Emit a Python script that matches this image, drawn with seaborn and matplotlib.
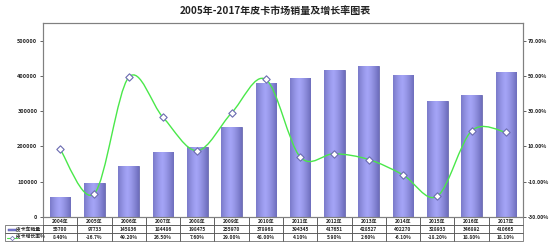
import numpy as np
import pandas as pd
import seaborn as sns
import matplotlib
matplotlib.use("Agg")
import matplotlib.pyplot as plt
from matplotlib.path import Path
from matplotlib.patches import PathPatch, Rectangle
from matplotlib.lines import Line2D

years = ["2004年", "2005年", "2006年", "2007年", "2008年", "2009年", "2010年",
         "2011年", "2012年", "2013年", "2014年", "2015年", "2016年", "2017年"]
sales = [55700, 97733, 145836, 184486, 198475, 255970, 378968,
         394345, 417651, 428527, 402270, 328933, 346892, 410665]
growth = [8.40, -16.7, 49.20, 26.50, 7.60, 29.00, 48.00,
          4.10, 5.90, 2.60, -6.10, -18.20, 18.80, 18.10]
growth_labels = ["8.40%", "-16.7%", "49.20%", "26.50%", "7.60%", "29.00%", "48.00%",
                 "4.10%", "5.90%", "2.60%", "-6.10%", "-18.20%", "18.80%", "18.10%"]
series_names = ["皮卡车销量", "皮卡增长率%"]
title = "2005年-2017年皮卡市场销量及增长率图表"

sns.set_theme(style="white")
plt.rcParams['font.family'] = ['Noto Sans CJK SC', 'DejaVu Sans']

W, H = 550, 247
fig = plt.figure(figsize=(5.5, 2.47), dpi=100)
L, R, T, B = 43, 523, 23, 217
ax = fig.add_axes([L / W, 1 - B / H, (R - L) / W, (B - T) / H])

df = pd.DataFrame({"year": years, "sales": sales, "growth": growth})
sns.barplot(data=df, x="year", y="sales", ax=ax, color="#8888e6", width=0.6,
            edgecolor="#5a5aa0", linewidth=0.5, saturation=1)
ax.set_xlim(-0.5, len(years) - 0.5)
ax.set_ylim(0, 550000)
ax.set_yticks([0, 100000, 200000, 300000, 400000, 500000])
ax.set_yticklabels(["0", "100000", "200000", "300000", "400000", "500000"])
ax.set_xticks([])
ax.set_xlabel("")
ax.set_ylabel("")
ax.tick_params(axis="y", labelsize=4, length=2, width=0.5, pad=2, left=True)
for lab in ax.get_yticklabels():
    lab.set_fontweight("bold")

# cylinder-like gradient on bars
grad = np.linspace(0, 1, 64)
shade = 1 - 0.7 * np.abs(grad - 0.45) ** 1.3 * 2
cmap = matplotlib.colors.LinearSegmentedColormap.from_list(
    "cyl", ["#50509c", "#a4a4f6"])
for p in ax.patches:
    x0, y0 = p.get_x(), p.get_y()
    w, h = p.get_width(), p.get_height()
    im = ax.imshow(shade[np.newaxis, :], cmap=cmap, vmin=0, vmax=1, aspect="auto",
                   extent=[x0, x0 + w, y0, y0 + h], zorder=p.get_zorder() + 0.1)
    im.set_clip_path(p)
ax.set_xlim(-0.5, len(years) - 0.5)
ax.set_ylim(0, 550000)

for s in ax.spines.values():
    s.set_color("#808080")
    s.set_linewidth(0.8)

ax2 = ax.twinx()
ax2.set_ylim(-30, 80)
ax2.set_yticks([-30, -10, 10, 30, 50, 70])
ax2.set_yticklabels([f"{v:.2f}%" for v in [-30, -10, 10, 30, 50, 70]])
ax2.tick_params(axis="y", labelsize=3.8, length=2, width=0.5, pad=1.5, right=True)
for lab in ax2.get_yticklabels():
    lab.set_fontweight("bold")
ax2.grid(False)
for s in ax2.spines.values():
    s.set_color("#808080")
    s.set_linewidth(0.8)

xs = np.arange(len(years), dtype=float)
ys = np.array(growth, dtype=float)
# smooth (Catmull-Rom style) Bezier curve through the points
verts = [(xs[0], ys[0])]
codes = [Path.MOVETO]
n = len(xs)
for i in range(n - 1):
    p0 = np.array([xs[max(i - 1, 0)], ys[max(i - 1, 0)]])
    p1 = np.array([xs[i], ys[i]])
    p2 = np.array([xs[i + 1], ys[i + 1]])
    p3 = np.array([xs[min(i + 2, n - 1)], ys[min(i + 2, n - 1)]])
    c1 = p1 + (p2 - p0) / 6
    c2 = p2 - (p3 - p1) / 6
    verts += [tuple(c1), tuple(c2), tuple(p2)]
    codes += [Path.CURVE4] * 3
curve = PathPatch(Path(verts, codes), facecolor="none", edgecolor="#4ae84a",
                  linewidth=1.0, zorder=3)
ax2.add_patch(curve)
sns.scatterplot(x=xs, y=ys, ax=ax2, marker="D", s=14, color="white",
                edgecolor="#6a6ab0", linewidth=0.8, zorder=4)
ax2.set_xlim(-0.5, len(years) - 0.5)

fig.text(0.5, 1 - 11 / H, title, ha="center", va="center", fontsize=7.2,
         fontweight="bold", color="#222222")

# data table
cell_text = [[""] + years,
             ["      " + series_names[0]] + [str(v) for v in sales],
             ["      " + series_names[1]] + growth_labels]
lab_w = 38.0
col_w = (R - L) / len(years)
total = lab_w + col_w * len(years)
col_widths = [lab_w / total] + [col_w / total] * len(years)
tb_top, tb_bot = 217, 241
bbox = [(5 - L) / (R - L), -(tb_bot - tb_top) / (B - T),
        total / (R - L), (tb_bot - tb_top) / (B - T)]
table = ax.table(cellText=cell_text, colWidths=col_widths, bbox=bbox,
                 cellLoc="center")
table.auto_set_font_size(False)
for (r, c), cell in table.get_celld().items():
    cell.set_linewidth(0.5)
    cell.set_edgecolor("#555555")
    cell.set_facecolor("none")
    cell.get_text().set_fontsize(3.5)
    cell.get_text().set_fontweight("bold")
    if c == 0:
        cell.get_text().set_ha("left")
        cell._loc = "left"
    if r == 0 and c == 0:
        cell.visible_edges = ""

# legend keys inside the table label cells
fig.add_artist(Rectangle((8 / W, 1 - 230.5 / H), 8 / W, 2 / H,
                         transform=fig.transFigure, facecolor="#7b7bd8",
                         edgecolor="#4a4a96", linewidth=0.3))
fig.add_artist(Line2D([7 / W, 17 / W], [1 - 237.5 / H, 1 - 237.5 / H],
                      transform=fig.transFigure, color="#4ae84a", linewidth=0.8))
fig.add_artist(Line2D([12 / W], [1 - 237.5 / H], transform=fig.transFigure,
                      marker="D", markersize=2.2, markerfacecolor="white",
                      markeredgecolor="#6a6ab0", markeredgewidth=0.5))

fig.savefig("out.png", dpi=100)
